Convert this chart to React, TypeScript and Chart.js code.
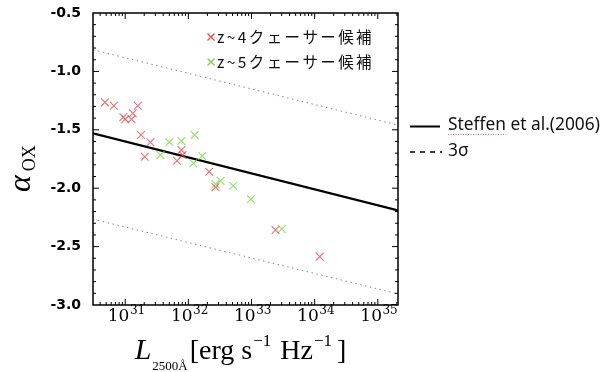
import { useEffect, useRef } from "react";
import { Chart, registerables } from "chart.js";

Chart.register(...registerables);

// log10(L_2500Å) and alpha_OX for z~4 candidates
const z4LogL = [30.68, 30.82, 31.2, 31.12, 30.97, 31.0, 31.1, 31.25, 31.4, 31.31, 31.89, 31.91, 31.82, 32.33, 32.43, 33.38, 34.08];
const z4Alpha = [-1.265, -1.294, -1.294, -1.359, -1.393, -1.41, -1.41, -1.545, -1.607, -1.73, -1.673, -1.716, -1.765, -1.859, -1.992, -2.358, -2.586];
// z~5 candidates
const z5LogL = [31.7, 31.89, 32.1, 31.56, 32.22, 32.08, 32.51, 32.43, 32.71, 32.99, 33.48];
const z5Alpha = [-1.607, -1.596, -1.545, -1.716, -1.724, -1.787, -1.936, -1.967, -1.979, -2.095, -2.349];
// Steffen et al. (2006) relation and 3 sigma band (endpoints)
const lineLogL = [30.49, 35.32];
const steffenAlpha = [-1.53, -2.19];
const sigmaUpperAlpha = [-0.815, -1.46];
const sigmaLowerAlpha = [-2.265, -2.905];
// axes
const xMin = 30.49;
const xMax = 35.32;
const xTickExps = [31, 32, 33, 34, 35];
const yMin = -3.0;
const yMax = -0.5;
const legendZ4 = "z~4クェーサー候補";
const legendZ5 = "z~5クェーサー候補";
const legendSteffen = "Steffen et al.(2006)";
const legendSigma = "3σ";

const toPts = (xs: number[], ys: number[]) => xs.map((x, i) => ({ x, y: ys[i] }));

const RED = "rgba(232,72,72,0.78)";
const GREEN = "rgba(110,222,60,0.8)";

const decorPlugin = {
  id: "decor",
  afterDraw(chart: any) {
    const { ctx, chartArea: a, scales } = chart;
    const x = scales.x;
    const y = scales.y;
    ctx.save();
    // frame
    ctx.strokeStyle = "#000";
    ctx.lineWidth = 1.5;
    ctx.strokeRect(a.left, a.top, a.right - a.left, a.bottom - a.top);
    ctx.lineWidth = 1;
    const vt = (px: number, len: number) => {
      ctx.beginPath();
      ctx.moveTo(px, a.bottom);
      ctx.lineTo(px, a.bottom - len);
      ctx.moveTo(px, a.top);
      ctx.lineTo(px, a.top + len);
      ctx.stroke();
    };
    const ht = (py: number, len: number) => {
      ctx.beginPath();
      ctx.moveTo(a.left, py);
      ctx.lineTo(a.left + len, py);
      ctx.moveTo(a.right, py);
      ctx.lineTo(a.right - len, py);
      ctx.stroke();
    };
    for (let n = 30; n <= 35; n++) {
      for (let k = 1; k <= 9; k++) {
        const v = n + Math.log10(k);
        if (v <= xMin || v >= xMax) continue;
        vt(x.getPixelForValue(v), k === 1 ? 6 : 3);
      }
    }
    for (let i = 0; i <= 25; i++) {
      const v = yMin + i * 0.1;
      if (i === 0 || i === 25) continue;
      ht(y.getPixelForValue(v), i % 5 === 0 ? 6 : 3);
    }
    // x tick labels 10^n
    ctx.fillStyle = "#000";
    ctx.textBaseline = "alphabetic";
    ctx.textAlign = "left";
    for (const e of xTickExps) {
      const px = x.getPixelForValue(e);
      ctx.font = "17px 'DejaVu Serif'";
      const w1 = ctx.measureText("10").width;
      ctx.font = "12px 'DejaVu Serif'";
      const w2 = ctx.measureText(String(e)).width;
      const start = px - (w1 + w2) / 2 + 1;
      ctx.font = "17px 'DejaVu Serif'";
      ctx.fillText("10", start, 321);
      ctx.font = "12px 'DejaVu Serif'";
      ctx.fillText(String(e), start + w1 + 0.5, 314);
    }
    // x title
    const pieces: { t: string; f: string; dy: number; gap: number }[] = [
      { t: "L", f: "italic 30px 'Liberation Serif'", dy: 0, gap: 0 },
      { t: "2500Å", f: "13px 'Liberation Serif'", dy: 11, gap: 1 },
      { t: "[erg s", f: "28px 'Liberation Serif'", dy: 0, gap: 2 },
      { t: "−1", f: "17px 'Liberation Serif'", dy: -13, gap: 1 },
      { t: "Hz", f: "28px 'Liberation Serif'", dy: 0, gap: 9 },
      { t: "−1", f: "17px 'Liberation Serif'", dy: -13, gap: 1 },
      { t: "]", f: "28px 'Liberation Serif'", dy: 0, gap: 5 },
    ];
    let total = 0;
    const widths = pieces.map((p) => {
      ctx.font = p.f;
      const w = ctx.measureText(p.t).width;
      total += w + p.gap;
      return w;
    });
    let cx = 240.5 - total / 2;
    pieces.forEach((p, i) => {
      cx += p.gap;
      ctx.font = p.f;
      ctx.fillText(p.t, cx, 359 + p.dy);
      cx += widths[i];
    });
    // y title (rotated)
    ctx.save();
    ctx.translate(30, 192);
    ctx.rotate(-Math.PI / 2);
    ctx.font = "italic 32px 'Liberation Serif'";
    ctx.fillText("α", 0, 0);
    const aw = ctx.measureText("α").width;
    ctx.font = "18px 'Liberation Serif'";
    ctx.fillText("OX", aw + 4, 5);
    ctx.restore();

    // inner legend
    const cross = (cxp: number, cyp: number, col: string) => {
      ctx.strokeStyle = col;
      ctx.lineWidth = 1.4;
      ctx.beginPath();
      ctx.moveTo(cxp - 3.5, cyp - 3.5);
      ctx.lineTo(cxp + 3.5, cyp + 3.5);
      ctx.moveTo(cxp + 3.5, cyp - 3.5);
      ctx.lineTo(cxp - 3.5, cyp + 3.5);
      ctx.stroke();
    };
    const fitText = (t: string, x0: number, yc: number, target: number, font: string) => {
      ctx.font = font;
      (ctx as any).letterSpacing = "0px";
      const w = ctx.measureText(t).width;
      const n = Array.from(t).length;
      const sp = Math.max(0, (target - w) / n);
      (ctx as any).letterSpacing = sp.toFixed(2) + "px";
      ctx.textBaseline = "middle";
      ctx.fillStyle = "#111";
      ctx.fillText(t, x0, yc);
      (ctx as any).letterSpacing = "0px";
    };
    cross(211, 37, "#e2503e");
    fitText(legendZ4, 217, 37, 157, "15.5px 'Noto Sans CJK JP'");
    cross(211, 62, "#86cc55");
    fitText(legendZ5, 217, 62, 157, "15.5px 'Noto Sans CJK JP'");

    // outer legend
    ctx.strokeStyle = "#000";
    ctx.lineWidth = 2;
    ctx.setLineDash([]);
    ctx.beginPath();
    ctx.moveTo(410, 126.5);
    ctx.lineTo(440, 126.5);
    ctx.stroke();
    ctx.lineWidth = 1.6;
    ctx.setLineDash([5, 5]);
    ctx.beginPath();
    ctx.moveTo(410, 152);
    ctx.lineTo(442, 152);
    ctx.stroke();
    ctx.setLineDash([]);
    ctx.font = "15px 'Noto Sans'";
    const sw = ctx.measureText(legendSteffen).width;
    const fs = (15 * 152) / sw;
    ctx.font = `${fs.toFixed(2)}px 'Noto Sans'`;
    ctx.fillStyle = "#111";
    ctx.textBaseline = "middle";
    ctx.fillText(legendSteffen, 448, 125);
    const stw = ctx.measureText("Steffen").width;
    ctx.fillText(legendSigma, 448, 151.5);
    // spell-check squiggle under "Steffen"
    ctx.strokeStyle = "rgba(225,70,70,0.85)";
    ctx.lineWidth = 1;
    ctx.setLineDash([1, 1.5]);
    ctx.beginPath();
    ctx.moveTo(448, 134.5);
    ctx.lineTo(448 + stw, 134.5);
    ctx.stroke();
    ctx.setLineDash([]);
    ctx.restore();
  },
};

export default function App() {
  const ref = useRef<HTMLCanvasElement | null>(null);
  useEffect(() => {
    if (!ref.current) return;
    const chart = new Chart(ref.current, {
      type: "scatter",
      data: {
        datasets: [
          {
            label: legendZ4,
            data: toPts(z4LogL, z4Alpha),
            pointStyle: "crossRot",
            pointRadius: 5.5,
            pointBorderWidth: 1.1,
            borderColor: RED,
            backgroundColor: RED,
          },
          {
            label: legendZ5,
            data: toPts(z5LogL, z5Alpha),
            pointStyle: "crossRot",
            pointRadius: 5.5,
            pointBorderWidth: 1.1,
            borderColor: GREEN,
            backgroundColor: GREEN,
          },
          {
            type: "line",
            label: legendSteffen,
            data: toPts(lineLogL, steffenAlpha),
            borderColor: "#000",
            borderWidth: 2.2,
            pointRadius: 0,
          },
          {
            type: "line",
            label: legendSigma,
            data: toPts(lineLogL, sigmaUpperAlpha),
            borderColor: "#8a8a8a",
            borderWidth: 1,
            borderDash: [1.5, 3.5],
            pointRadius: 0,
          },
          {
            type: "line",
            label: legendSigma + " low",
            data: toPts(lineLogL, sigmaLowerAlpha),
            borderColor: "#8a8a8a",
            borderWidth: 1,
            borderDash: [1.5, 3.5],
            pointRadius: 0,
          },
        ] as any,
      },
      options: {
        animation: false,
        responsive: false,
        devicePixelRatio: 1,
        layout: { padding: { left: 0, right: 213, top: 13, bottom: 0 } },
        plugins: { legend: { display: false }, tooltip: { enabled: false } },
        scales: {
          x: {
            type: "linear",
            min: xMin,
            max: xMax,
            grid: { display: false },
            border: { display: false },
            ticks: { display: false },
            afterFit: (s: any) => {
              s.height = 67;
            },
          },
          y: {
            type: "linear",
            min: yMin,
            max: yMax,
            grid: { display: false },
            border: { display: false },
            ticks: {
              stepSize: 0.5,
              padding: 4,
              color: "#000",
              font: { family: "'DejaVu Sans'", size: 14, weight: "bold" },
              callback: (v: any) => Number(v).toFixed(1),
            },
            afterFit: (s: any) => {
              s.width = 93;
            },
          },
        },
      },
      plugins: [decorPlugin],
    });
    return () => chart.destroy();
  }, []);
  return (
    <div style={{ position: "fixed", left: 0, top: 0, width: 611, height: 372, background: "#fff" }}>
      <canvas ref={ref} width={611} height={372} />
    </div>
  );
}
